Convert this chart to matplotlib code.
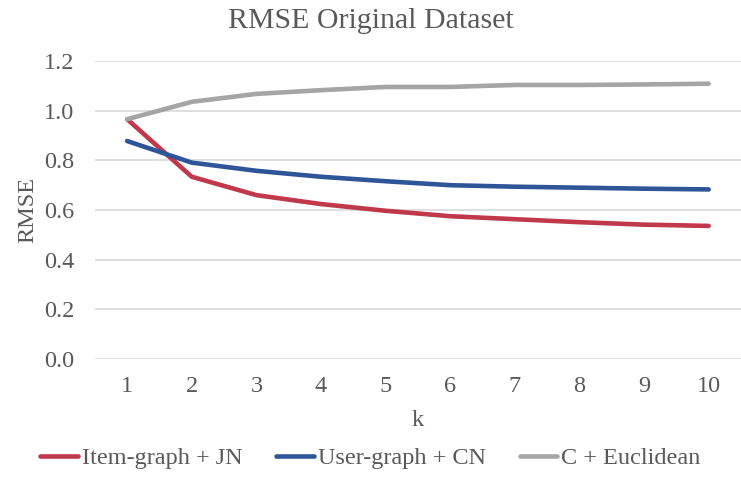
import matplotlib.pyplot as plt

plt.rcParams['font.family'] = ['Liberation Serif', 'DejaVu Serif']

k = [1, 2, 3, 4, 5, 6, 7, 8, 9, 10]
item_graph_jn = [0.966, 0.734, 0.660, 0.624, 0.597, 0.575, 0.563, 0.551, 0.541, 0.536]
user_graph_cn = [0.878, 0.791, 0.758, 0.734, 0.716, 0.700, 0.694, 0.690, 0.686, 0.683]
c_euclidean = [0.966, 1.036, 1.068, 1.083, 1.096, 1.096, 1.104, 1.104, 1.106, 1.109]
y_ticks = [0.0, 0.2, 0.4, 0.6, 0.8, 1.0, 1.2]

text_col = "#595959"

fig = plt.figure(figsize=(7.41, 4.93), dpi=100)
ax = fig.add_axes([0.128, 0.272, 0.872, 0.604])

ax.plot(k, item_graph_jn, color="#C0394A", lw=3.3, label="Item-graph + JN", solid_capstyle="round")
ax.plot(k, user_graph_cn, color="#2E5597", lw=3.3, label="User-graph + CN", solid_capstyle="round")
ax.plot(k, c_euclidean, color="#A5A5A5", lw=3.3, label="C + Euclidean", solid_capstyle="round")

ax.set_xlim(0.5, 10.5)
ax.set_ylim(0, 1.2)
ax.set_xticks(k)
ax.set_yticks(y_ticks)
ax.set_yticklabels([f"{v:.1f}" for v in y_ticks])
ax.tick_params(length=0, labelsize=17.5, colors=text_col)
ax.tick_params(axis="y", pad=15)
ax.tick_params(axis="x", pad=12)
ax.grid(axis="y", color="#D9D9D9", lw=1.2)
ax.set_axisbelow(True)
for s in ax.spines.values():
    s.set_visible(False)

# title is centred on the whole figure, like the legend
fig.text(0.5, 0.958, "RMSE Original Dataset", fontsize=21.5, color=text_col,
         ha="center", va="center")
ax.set_xlabel("k", fontsize=17.5, color=text_col, labelpad=10)
ax.set_ylabel("RMSE", fontsize=17.5, color=text_col, labelpad=4)

fig.legend(loc="center", bbox_to_anchor=(0.5, 0.07), ncol=3, frameon=False,
           fontsize=17.5, labelcolor=text_col, handlelength=1.55, handletextpad=0.15,
           columnspacing=1.4)

fig.savefig("out.png", dpi=100)
